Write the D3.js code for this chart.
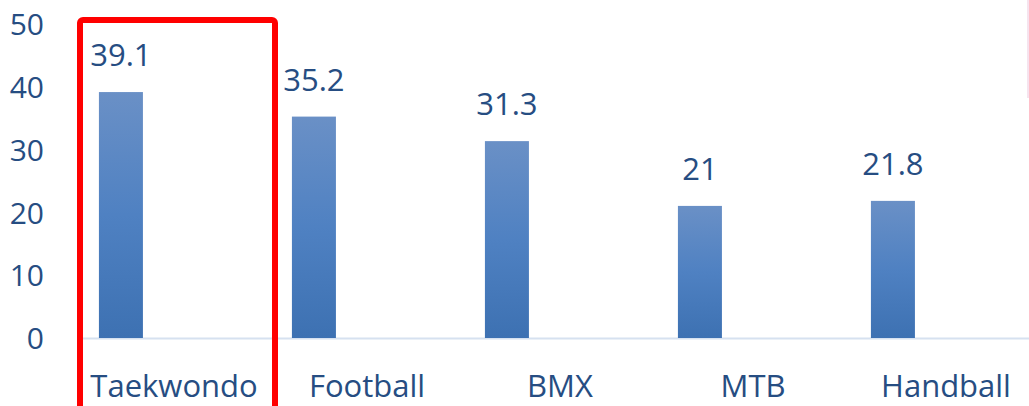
<!DOCTYPE html>
<html>
<head>
<meta charset="utf-8">
<script src="https://cdn.jsdelivr.net/npm/d3@7"></script>
<style>
  body{margin:0;background:#fff;overflow:hidden;}
  text{font-family:'Open Sans','Noto Sans',sans-serif;}
</style>
</head>
<body>
<svg id="main"></svg>
<script>
//--------data----------
const sports = ['Taekwondo', 'Football', 'BMX', 'MTB', 'Handball'];
const values = [39.1, 35.2, 31.3, 21, 21.8];
const yTicks = [0, 10, 20, 30, 40, 50];
const highlighted = 'Taekwondo';

//--------code----------
let width = 1029;
let height = 406;
const textColor = '#264d82';

let svg = d3.select('#main')
.attr('width', width)
.attr('height', height);

let defs = svg.append('defs');
let grad = defs.append('linearGradient')
.attr('id', 'barGrad')
.attr('x1', 0).attr('y1', 0)
.attr('x2', 0).attr('y2', 1);
grad.append('stop').attr('offset', '0%').attr('stop-color', '#6a90c6');
grad.append('stop').attr('offset', '50%').attr('stop-color', '#4f81c2');
grad.append('stop').attr('offset', '100%').attr('stop-color', '#3d71b2');

let sx = d3.scaleBand()
.domain(sports)
.range([77.5, 77.5 + 193*sports.length])
.padding(0);

let sy = d3.scaleLinear()
.domain([0, 50])
.range([338, 23.5]);

// bar sits in the left part of each category slot
let barOffset = d => sx(d) + sx.bandwidth()*0.111;
let barWidth = sx.bandwidth()*0.228;

//baseline
svg.append('line')
.attr('x1', sx.range()[0])
.attr('x2', width)
.attr('y1', sy(0)+0.5)
.attr('y2', sy(0)+0.5)
.attr('stroke', '#d6e1f0')
.attr('stroke-width', 2);

//y axis (labels only)
let ay = d3.axisLeft(sy).tickValues(yTicks).tickSize(0).tickPadding(0);
let gy = svg.append('g')
.attr('transform', 'translate(44,0)')
.call(ay);
gy.select('.domain').remove();
gy.selectAll('text')
.attr('fill', textColor)
.style('font-size', '30px')
.attr('dy', '0.36em');

//bars
let data = sports.map((s,i)=>({sport: s, value: values[i]}));
svg.selectAll('.bar')
.data(data)
.join('rect')
.attr('class', 'bar')
.attr('x', d=>barOffset(d.sport))
.attr('y', d=>sy(d.value))
.attr('width', barWidth)
.attr('height', d=>sy(0)-sy(d.value))
.attr('fill', 'url(#barGrad)');

//value labels
svg.selectAll('.valueLabel')
.data(data)
.join('text')
.attr('class', 'valueLabel')
.attr('x', d=>barOffset(d.sport) + barWidth/2)
.attr('y', d=>sy(d.value) - 26)
.attr('text-anchor', 'middle')
.attr('fill', textColor)
.style('font-size', '31px')
.text(d=>d.value);

//x axis labels
let ax = d3.axisBottom(sx).tickSize(0).tickPadding(0);
let gx = svg.append('g')
.call(ax);
gx.select('.domain').remove();
gx.selectAll('text')
.attr('y', 397)
.attr('dy', 0)
.attr('fill', textColor)
.style('font-size', '31px');

//highlight box
svg.append('rect')
.attr('x', sx(highlighted) + 2.5)
.attr('y', 20)
.attr('width', 195)
.attr('height', 420)
.attr('rx', 3)
.attr('fill', 'none')
.attr('stroke', '#ff0000')
.attr('stroke-width', 6);

//cropped strip at right edge
svg.append('rect')
.attr('x', 1027)
.attr('y', 0)
.attr('width', 2)
.attr('height', 98)
.attr('fill', '#f6e3ee');
</script>
</body>
</html>
